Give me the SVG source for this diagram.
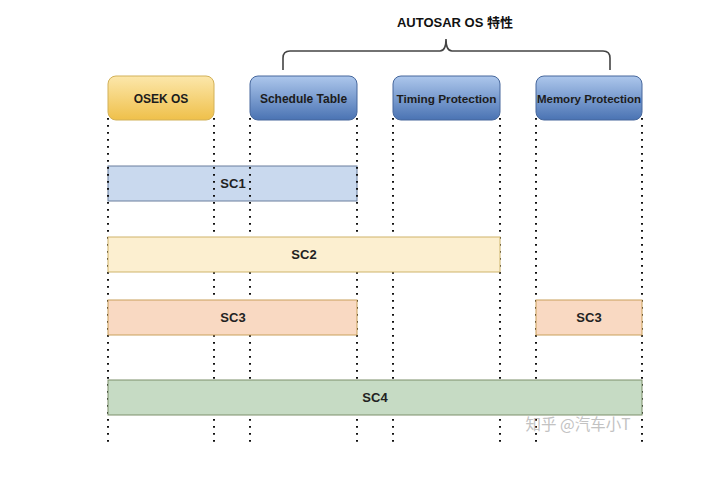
<svg xmlns="http://www.w3.org/2000/svg" width="707" height="490" viewBox="0 0 707 490">
<defs>
<linearGradient id="gy" x1="0" y1="0" x2="0" y2="1"><stop offset="0" stop-color="#fce7ab"/><stop offset="1" stop-color="#efc04a"/></linearGradient>
<linearGradient id="gb" x1="0" y1="0" x2="0" y2="1"><stop offset="0" stop-color="#adc7ec"/><stop offset="1" stop-color="#4a73b3"/></linearGradient>
<style>
.hdr{font-family:"Liberation Sans",Arial,sans-serif;font-weight:bold;font-size:12px;fill:#1c1c1c;text-anchor:middle}
.lbl{font-family:"Liberation Sans",Arial,sans-serif;font-weight:bold;font-size:13px;fill:#222;text-anchor:middle}
.dot{stroke:#111;stroke-width:2;stroke-dasharray:1.8 5.2;fill:none}
.hy{fill:url(#gy);stroke:#d2b158;stroke-width:1}
.hb{fill:url(#gb);stroke:#46679c;stroke-width:1}
</style>
</defs>
<rect width="707" height="490" fill="#ffffff"/>
<g id="title"><text x="455" y="27" style="font-family:'Liberation Sans','Noto Sans CJK SC',sans-serif;font-weight:bold;font-size:13px;fill:#111;text-anchor:middle">AUTOSAR OS 特性</text></g>
<g id="sc1"><rect x="108" y="166" width="249" height="35" fill="#c9d9ee" stroke="#6a7f9e" stroke-width="1"/><text class="lbl" x="233" y="188">SC1</text></g>
<g id="connectors">
<path d="M283,70 V58 Q283,51 290,51 H440 Q446,51 446,39 Q446,51 452,51 H603 Q610,51 610,58 V70" fill="none" stroke="#444" stroke-width="1.6"/>
<path class="dot" d="M108,118 V446 M214,118 V446 M250,118 V446 M357,118 V446 M393,118 V446 M500,118 V446 M536,118 V446 M642,118 V446"/>
</g>
<g id="osek"><rect class="hy" x="108" y="76" width="106" height="44" rx="8"/><text class="hdr" x="161" y="103">OSEK OS</text></g>
<g id="schedule"><rect class="hb" x="250" y="76" width="107" height="44" rx="8"/><text class="hdr" x="303.5" y="103">Schedule Table</text></g>
<g id="timing"><rect class="hb" x="393" y="76" width="107" height="44" rx="8"/><text class="hdr" x="446.5" y="103" style="font-size:11.8px">Timing Protection</text></g>
<g id="memory"><rect class="hb" x="536" y="76" width="106" height="44" rx="8"/><text class="hdr" x="589" y="103" style="font-size:11.5px">Memory Protection</text></g>
<g id="sc2"><rect x="108" y="237" width="392" height="35" fill="#fcefd0" stroke="#cfb46a" stroke-width="1"/><text class="lbl" x="304" y="259">SC2</text></g>
<g id="sc3a"><rect x="108" y="300" width="249" height="35" fill="#f9d9c2" stroke="#c9a05a" stroke-width="1"/><text class="lbl" x="233" y="322">SC3</text></g>
<g id="sc3b"><rect x="536" y="300" width="106" height="35" fill="#f9d9c2" stroke="#c9a05a" stroke-width="1"/><text class="lbl" x="589" y="322">SC3</text></g>
<g id="sc4"><rect x="108" y="380" width="534" height="35" fill="#c6dbc4" stroke="#7d8f6a" stroke-width="1"/><text class="lbl" x="375" y="402">SC4</text></g>
<g id="watermark"><text x="578" y="430" style="font-family:'Noto Sans CJK SC','Liberation Sans',sans-serif;font-size:15.5px;fill:#c2c2c2;text-anchor:middle">知乎 @汽车小T</text></g>
</svg>
